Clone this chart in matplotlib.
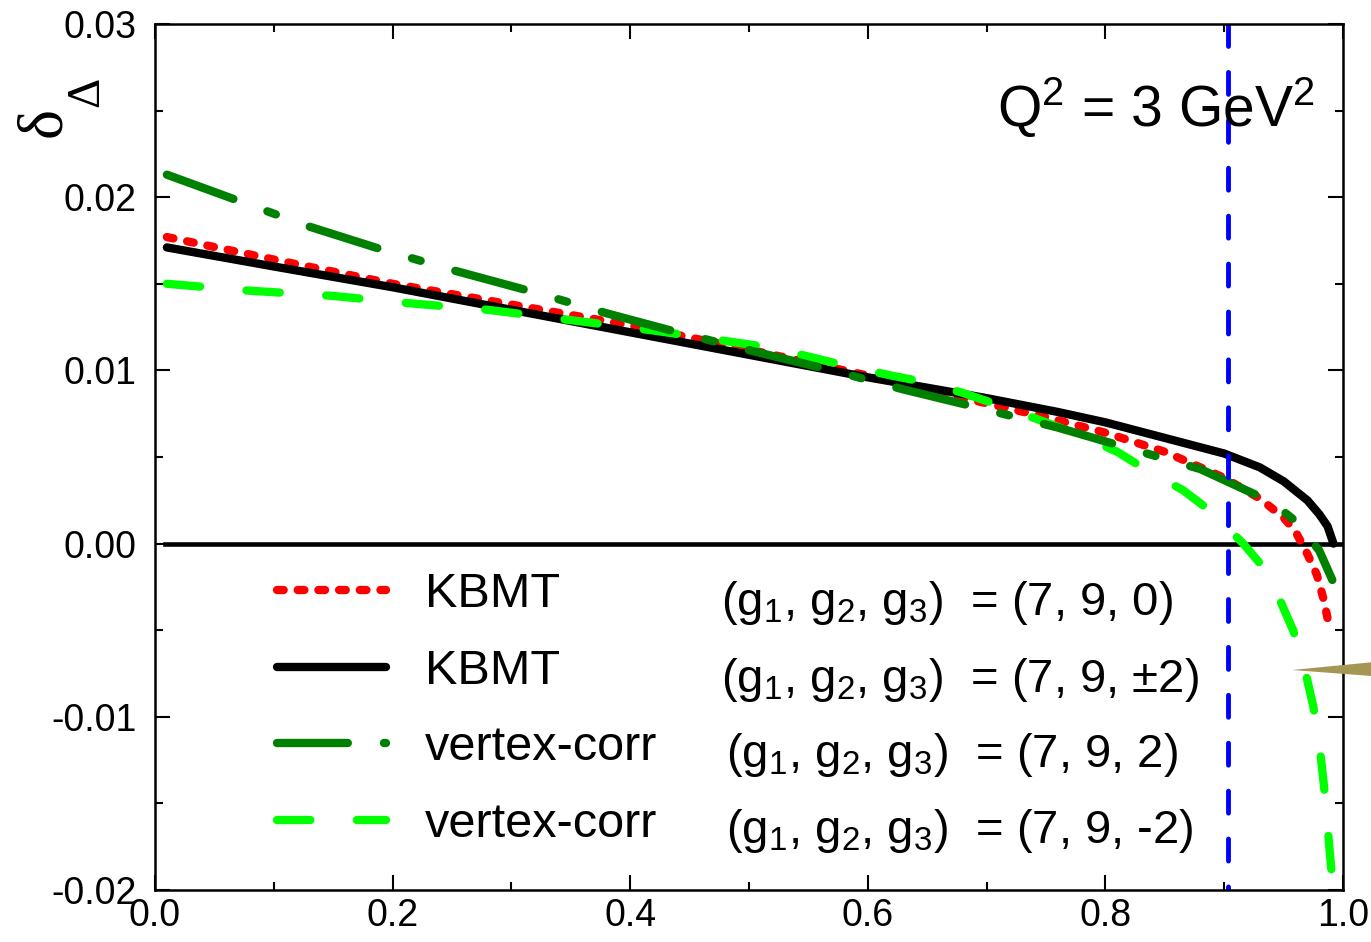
import matplotlib
matplotlib.use('Agg')
import matplotlib.pyplot as plt
from matplotlib.lines import Line2D
from matplotlib.patches import Polygon
from matplotlib.ticker import MultipleLocator, FormatStrFormatter

plt.rcParams['font.family'] = ['Liberation Sans', 'DejaVu Sans']
plt.rcParams['mathtext.fontset'] = 'custom'
plt.rcParams['mathtext.rm'] = 'Liberation Sans'
plt.rcParams['mathtext.it'] = 'Liberation Sans'
plt.rcParams['axes.unicode_minus'] = False
plt.rcParams['lines.scale_dashes'] = False

# ---- curves: delta_Delta vs x ----
x_kbmt0 = [0.01, 0.1, 0.2, 0.3, 0.4, 0.5, 0.6, 0.7, 0.75, 0.8, 0.85, 0.9,
           0.93, 0.95, 0.96, 0.97, 0.978, 0.984, 0.989]
y_kbmt0 = [0.0177, 0.0164, 0.0150, 0.0138, 0.0126, 0.0112, 0.0097, 0.0081,
           0.0073, 0.0064, 0.0053, 0.0038, 0.0026, 0.0015, 0.0007, -0.0006,
           -0.0018, -0.0033, -0.0050]

x_kbmt2 = [0.01, 0.1, 0.2, 0.3, 0.4, 0.5, 0.6, 0.7, 0.76, 0.8, 0.85, 0.9,
           0.93, 0.95, 0.97, 0.98, 0.987, 0.992]
y_kbmt2 = [0.0171, 0.0160, 0.0148, 0.0135, 0.0122, 0.0109, 0.0096, 0.0084,
           0.0076, 0.0070, 0.0061, 0.0052, 0.0044, 0.0036, 0.0025, 0.0017,
           0.0010, 0.0]

x_vc_p2 = [0.01, 0.07, 0.13, 0.19, 0.25, 0.32, 0.38, 0.44, 0.51, 0.57, 0.63,
           0.69, 0.76, 0.82, 0.88, 0.94, 0.96, 0.98, 0.991]
y_vc_p2 = [0.0213, 0.0198, 0.0183, 0.0170, 0.0158, 0.0145, 0.0133, 0.0122,
           0.0110, 0.0100, 0.0089, 0.0079, 0.0067, 0.0055, 0.0043, 0.0024,
           0.0013, -0.0004, -0.0021]

x_vc_m2 = [0.01, 0.08, 0.15, 0.21, 0.28, 0.35, 0.42, 0.48, 0.52, 0.55, 0.58,
           0.62, 0.65, 0.68, 0.71, 0.75, 0.78, 0.81, 0.838, 0.865, 0.89,
           0.916, 0.937, 0.958, 0.967, 0.975, 0.98, 0.984, 0.989, 0.993]
y_vc_m2 = [0.0150, 0.0146, 0.0143, 0.0139, 0.0135, 0.0129, 0.0123, 0.0117,
           0.0113, 0.0108, 0.0103, 0.0097, 0.0093, 0.0087, 0.0080, 0.0070,
           0.0062, 0.0053, 0.0041, 0.0031, 0.0018, 0.0000, -0.0017, -0.0050,
           -0.0070, -0.0094, -0.0115, -0.0140, -0.0179, -0.0210]

x_cut = 0.903
zero_x = [0.008, 1.0]

labels = ['KBMT', 'KBMT', 'vertex-corr', 'vertex-corr']
couplings = ['(7, 9, 0)', '(7, 9, \u00b12)', '(7, 9, 2)', '(7, 9, -2)']

fig = plt.figure(figsize=(13.71, 9.42), dpi=100)
ax = fig.add_axes([155 / 1371, 52 / 942, 1188 / 1371, 866 / 942])

lw = 6
styles = [
    dict(color='#ff0000', lw=lw, dashes=(4.8, 10.1), dash_capstyle='round'),
    dict(color='black', lw=lw, solid_capstyle='round'),
    dict(color='#008000', lw=lw, dashes=(51, 26, 6.5, 26), dash_capstyle='round'),
    dict(color='#00ff00', lw=lw, dashes=(24, 33.5), dash_capstyle='round'),
]

ax.plot(zero_x, [0, 0], color='black', lw=3.3)
ax.plot(x_kbmt0, y_kbmt0, **styles[0])
ax.plot(x_kbmt2, y_kbmt2, **styles[1])
ax.plot(x_vc_m2, y_vc_m2, **styles[3])
ax.plot(x_vc_p2, y_vc_p2, **styles[2])
ax.plot([x_cut, x_cut], [0.03, -0.02], color='#0000ff', lw=3.5,
        dashes=(15.8, 18.7), dash_capstyle='round')

ax.set_xlim(0, 1.0)
ax.set_ylim(-0.02, 0.03)
ax.xaxis.set_major_locator(MultipleLocator(0.2))
ax.xaxis.set_minor_locator(MultipleLocator(0.1))
ax.yaxis.set_major_locator(MultipleLocator(0.01))
ax.yaxis.set_minor_locator(MultipleLocator(0.005))
ax.xaxis.set_major_formatter(FormatStrFormatter('%.1f'))
ax.yaxis.set_major_formatter(FormatStrFormatter('%.2f'))
ax.tick_params(which='both', direction='in', top=True, right=True, width=1.5,
               labelsize=27)
ax.tick_params(which='major', length=10.8)
ax.tick_params(which='minor', length=5.8)
ax.tick_params(axis='y', pad=13)
ax.tick_params(axis='x', pad=6)
for s in ax.spines.values():
    s.set_linewidth(1.8)

# legend: line samples + names, couplings as a second column
handles = [Line2D([], [], **st) for st in styles]
ax.legend(handles, labels, loc='upper left', bbox_to_anchor=(0.1027, 0.3673),
          frameon=False, fontsize=35, handlelength=2.24, handletextpad=0.8,
          labelspacing=0.65, borderpad=0, borderaxespad=0)

cx = [0.4764, 0.4764, 0.4806, 0.4806]
cy = [0.3176, 0.2286, 0.1420, 0.0543]
for xx, yy, c in zip(cx, cy, couplings):
    ax.text(xx, yy, '(g$_1$, g$_2$, g$_3$)  = ' + c, transform=ax.transAxes,
            fontsize=34, va='baseline', ha='left')

ax.text(0.7088, 0.881, 'Q$^2$ = 3 GeV$^2$', transform=ax.transAxes,
        fontsize=41, va='baseline', ha='left')

# y label: delta with Delta subscript, rotated
fig.text(45 / 1371, 1 - 122 / 942, '\u03b4', rotation=90, fontsize=46,
         family=['Liberation Serif'], ha='center', va='center')
fig.text(87 / 1371, 1 - 92 / 942, '\u0394', rotation=90, fontsize=34,
         family=['Liberation Serif'], ha='center', va='center')

# clipped pointer entering from the right edge
fig.patches.append(Polygon([(1292 / 1371, 1 - 670 / 942),
                            (1.01, 1 - 661 / 942), (1.01, 1 - 677 / 942)],
                           closed=True, transform=fig.transFigure,
                           facecolor='#a69654', edgecolor='none'))

fig.savefig('out.png', dpi=100)
